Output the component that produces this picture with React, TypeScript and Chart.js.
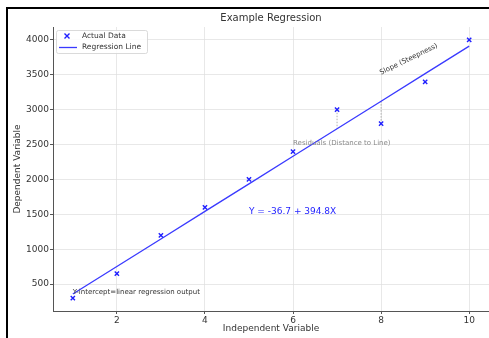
import React, { useEffect, useRef } from "react";
import { Chart, registerables } from "chart.js";

Chart.register(...registerables);

// ---- data ----
const xValues = [1, 2, 3, 4, 5, 6, 7, 8, 9, 10];
const actualY = [300, 650, 1200, 1600, 2000, 2400, 3000, 2800, 3400, 4000];
const fittedY = [358.1, 752.9, 1147.7, 1542.5, 1937.3, 2332.1, 2726.9, 3121.7, 3516.5, 3911.3];
const xTicks = [2, 4, 6, 8, 10];
const yTicks = [500, 1000, 1500, 2000, 2500, 3000, 3500, 4000];
const residualIdx = [6, 7];
const xRange = [0.55, 10.45];
const yRange = [115, 4185];

const titleText = "Example Regression";
const xTitle = "Independent Variable";
const yTitle = "Dependent Variable";
const legendLabels = ["Actual Data", "Regression Line"];

const annotationTexts = ["Slope (Steepness)", "Residuals (Distance to Line)", "Y = -36.7 + 394.8X", "Y-intercept=linear regression output"];
const annotationX = [8, 6, 5, 1];
const annotationY = [3500, 2500, 1500, 358];

const FONT = "'DejaVu Sans', sans-serif";
const BLUE = "#1f1fff";
const LINE_BLUE = "#3a3aff";

export default function App() {
  const ref = useRef<HTMLCanvasElement | null>(null);

  useEffect(() => {
    document.body.style.margin = "0";
    const canvas = ref.current!;
    const framePlugin = {
      id: "frame",
      beforeDraw(chart: any) {
        const { ctx } = chart;
        ctx.save();
        ctx.fillStyle = "#fff";
        ctx.fillRect(0, 0, chart.width, chart.height);
        ctx.restore();
      },
      afterDraw(chart: any) {
        const { ctx } = chart;
        ctx.save();
        ctx.fillStyle = "#000";
        ctx.fillRect(6, 7, chart.width - 6, 2);
        ctx.fillRect(6, 7, 2, chart.height - 7);
        ctx.restore();
      },
    };
    const annotationPlugin = {
      id: "annots",
      afterDatasetsDraw(chart: any) {
        const { ctx, scales } = chart;
        const xs = scales.x, ys = scales.y;
        ctx.save();
        {
          const px = xs.getPixelForValue(annotationX[0]);
          const py = ys.getPixelForValue(annotationY[0]);
          ctx.translate(px, py);
          ctx.rotate(-26 * Math.PI / 180);
          ctx.font = `7px ${FONT}`;
          ctx.fillStyle = "#333";
          ctx.textAlign = "left";
          ctx.textBaseline = "alphabetic";
          ctx.fillText(annotationTexts[0], 0, 0);
          ctx.setTransform(1, 0, 0, 1, 0, 0);
        }
        ctx.textAlign = "left";
        ctx.textBaseline = "alphabetic";
        ctx.font = `7px ${FONT}`;
        ctx.fillStyle = "#8a8a8a";
        ctx.fillText(annotationTexts[1], xs.getPixelForValue(annotationX[1]), ys.getPixelForValue(annotationY[1]));
        ctx.font = `9px ${FONT}`;
        ctx.fillStyle = "#1f1fff";
        ctx.fillText(annotationTexts[2], xs.getPixelForValue(annotationX[2]), ys.getPixelForValue(annotationY[2]));
        ctx.font = `7px ${FONT}`;
        ctx.fillStyle = "#333";
        ctx.fillText(annotationTexts[3], xs.getPixelForValue(annotationX[3]), ys.getPixelForValue(annotationY[3]));
        ctx.restore();
      },
      afterDraw(chart: any) {
        const { ctx, chartArea } = chart;
        const l = chartArea.left + 3, t = chartArea.top + 3, w = 91, h = 23;
        ctx.save();
        ctx.fillStyle = "rgba(255,255,255,0.85)";
        ctx.strokeStyle = "#d0d0d0";
        ctx.lineWidth = 0.8;
        ctx.beginPath();
        if ((ctx as any).roundRect) (ctx as any).roundRect(l + 0.5, t + 0.5, w, h, 2);
        else ctx.rect(l + 0.5, t + 0.5, w, h);
        ctx.fill();
        ctx.stroke();
        const mx = l + 11, my = t + 6;
        ctx.strokeStyle = BLUE;
        ctx.lineWidth = 1.4;
        ctx.beginPath();
        ctx.moveTo(mx - 2.5, my - 2.5); ctx.lineTo(mx + 2.5, my + 2.5);
        ctx.moveTo(mx - 2.5, my + 2.5); ctx.lineTo(mx + 2.5, my - 2.5);
        ctx.stroke();
        ctx.strokeStyle = LINE_BLUE;
        ctx.lineWidth = 1.3;
        ctx.beginPath();
        ctx.moveTo(l + 3, t + 17.5); ctx.lineTo(l + 21, t + 17.5);
        ctx.stroke();
        ctx.fillStyle = "#333";
        ctx.font = `7.5px ${FONT}`;
        ctx.textAlign = "left";
        ctx.textBaseline = "middle";
        ctx.fillText(legendLabels[0], l + 26, my);
        ctx.fillText(legendLabels[1], l + 26, t + 17.5);
        ctx.restore();
      },
    };

    const residualDatasets = residualIdx.map((i) => ({
      type: "line" as const,
      data: [
        { x: xValues[i], y: actualY[i] },
        { x: xValues[i], y: fittedY[i] },
      ],
      borderColor: "#9a9a9a",
      borderWidth: 0.8,
      borderDash: [1.5, 1.5],
      pointRadius: 0,
      showLine: true,
      fill: false,
      order: 3,
    }));

    const gridOpts: any = {
      color: "#dedede",
      lineWidth: 0.7,
      borderDash: [1, 1.5],
      drawTicks: true,
      tickLength: 3,
      tickColor: "#555",
      tickBorderDash: [],
      tickWidth: 1,
    };

    const chart = new Chart(canvas, {
      type: "scatter",
      data: {
        datasets: [
          {
            type: "line" as const,
            label: legendLabels[1],
            data: xValues.map((x, i) => ({ x, y: fittedY[i] })),
            borderColor: LINE_BLUE,
            borderWidth: 1.3,
            pointRadius: 0,
            showLine: true,
            fill: false,
            order: 2,
          },
          {
            type: "scatter" as const,
            label: legendLabels[0],
            data: xValues.map((x, i) => ({ x, y: actualY[i] })),
            pointStyle: "crossRot",
            radius: 3,
            borderColor: BLUE,
            backgroundColor: BLUE,
            borderWidth: 1.4,
            order: 1,
          },
          ...residualDatasets,
        ] as any,
      },
      options: {
        responsive: false,
        animation: false,
        devicePixelRatio: 1,
        layout: { padding: 0, autoPadding: false },
        plugins: {
          legend: { display: false },
          tooltip: { enabled: false },
          title: {
            display: true,
            text: titleText,
            fullSize: false,
            color: "#333",
            font: { family: FONT, size: 10, weight: "normal" as any },
            padding: { top: 12, bottom: 3 },
          },
        },
        scales: {
          x: {
            type: "linear",
            min: xRange[0],
            max: xRange[1],
            afterBuildTicks: (s: any) => { s.ticks = xTicks.map((v) => ({ value: v })); },
            afterFit: (s: any) => { s.height = 27; s.paddingRight = 0; s.paddingLeft = 0; },
            ticks: { color: "#333", font: { family: FONT, size: 9 }, padding: 1, autoSkip: false, maxRotation: 0, callback: (v: any) => String(v) },
            grid: gridOpts,
            border: { display: true, color: "#555", width: 1 },
            title: { display: true, text: xTitle, color: "#333", font: { family: FONT, size: 9 }, padding: { top: 0, bottom: 4 } },
          },
          y: {
            type: "linear",
            min: yRange[0],
            max: yRange[1],
            afterBuildTicks: (s: any) => { s.ticks = yTicks.map((v) => ({ value: v })); },
            afterFit: (s: any) => { s.width = 53; s.paddingTop = 0; s.paddingBottom = 0; },
            ticks: { color: "#333", font: { family: FONT, size: 9 }, padding: 1, autoSkip: false, callback: (v: any) => String(v) },
            grid: gridOpts,
            border: { display: true, color: "#555", width: 1 },
            title: { display: true, text: yTitle, color: "#333", font: { family: FONT, size: 9 }, padding: { top: 12, bottom: 0 } },
          },
        },
      },
      plugins: [framePlugin, annotationPlugin],
    } as any);
    return () => chart.destroy();
  }, []);

  return (
    <div style={{ position: "fixed", left: 0, top: 0, width: 489, height: 338, background: "#fff", overflow: "hidden" }}>
      <canvas ref={ref} width={489} height={338} style={{ position: "absolute", left: 0, top: 0, width: 489, height: 338 }} />
    </div>
  );
}
